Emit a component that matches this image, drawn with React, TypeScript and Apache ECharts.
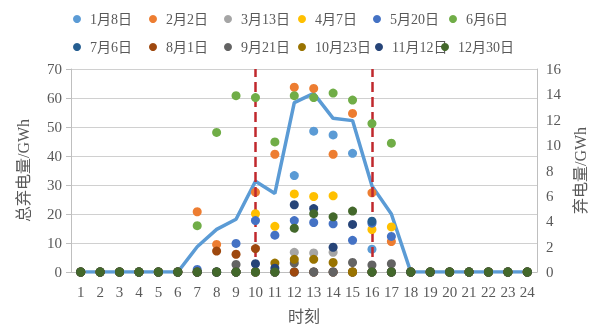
import React, { useEffect, useRef } from "react";
import * as echarts from "echarts";

const hours = ["1","2","3","4","5","6","7","8","9","10","11","12","13","14","15","16","17","18","19","20","21","22","23","24"];

const totalCurtail = [0,0,0,0,0,0,8.7,14.7,18.2,31.3,27.1,58.4,61.6,53,52.2,29.7,20,0,0,0,0,0,0,0];

const d0108 = [0,0,0,0,0,0,0,0,0,0,0,7.6,11.1,10.8,9.35,1.8,0,0,0,0,0,0,0,0];
const d0202 = [0,0,0,0,0,0,4.75,2.17,0,6.29,9.28,14.56,14.47,9.28,12.5,6.24,2.4,0,0,0,0,0,0,0];
const d0313 = [0,0,0,0,0,0,0,0,0,0,0,1.55,1.5,1.55,0,0,0,0,0,0,0,0,0,0];
const d0407 = [0,0,0,0,0,0,0,0,0,4.6,3.6,6.15,5.95,6.0,0,3.35,3.55,0,0,0,0,0,0,0];
const d0520 = [0,0,0,0,0,0,0.2,0,2.25,4.05,2.9,4.05,3.9,3.8,2.5,3.85,2.8,0,0,0,0,0,0,0];
const d0606 = [0,0,0,0,0,0,3.65,11.0,13.9,13.75,10.25,13.9,13.75,14.1,13.55,11.7,10.15,0,0,0,0,0,0,0];
const d0706 = [0,0,0,0,0,0,0,0,0,0,0,0,0,0,0,4.0,0,0,0,0,0,0,0,0];
const d0801 = [0,0,0,0,0,0,0,1.65,1.4,1.85,0,0,0,0,0,0,0,0,0,0,0,0,0,0];
const d0921 = [0,0,0,0,0,0,0,0,0.6,0,0,0.7,0,0,0.75,0.55,0.65,0,0,0,0,0,0,0];
const d1023 = [0,0,0,0,0,0,0,0,0,0,0.7,1.0,1.0,0.75,0,0,0,0,0,0,0,0,0,0];
const d1112 = [0,0,0,0,0,0,0,0,0,0.65,0.3,5.3,5.0,1.95,3.75,0,0,0,0,0,0,0,0,0];
const d1230 = [0,0,0,0,0,0,0,0,0,0,0,3.45,4.6,4.35,4.8,0,0,0,0,0,0,0,0,0];

const dayNames = ["1月8日","2月2日","3月13日","4月7日","5月20日","6月6日","7月6日","8月1日","9月21日","10月23日","11月12日","12月30日"];
const dayData = [d0108,d0202,d0313,d0407,d0520,d0606,d0706,d0801,d0921,d1023,d1112,d1230];
const dayColors = ["#5B9BD5","#ED7D31","#A5A5A5","#FFC000","#4472C4","#70AD47","#255E91","#9E480E","#636363","#997300","#264478","#43682B"];

const leftTicks = { min: 0, max: 70, interval: 10 };
const rightTicks = { min: 0, max: 16, interval: 2 };
const dashedHours = ["10", "16"];

const legendX = [73, 149, 224, 298, 373, 449, 73, 149, 224, 298, 375, 441];
const legendY = [12, 12, 12, 12, 12, 12, 40, 40, 40, 40, 40, 40];

const FONT = "'Liberation Serif', 'Times New Roman', 'Noto Sans CJK SC', serif";
const TXT = "#595959";

export default function App() {
  const ref = useRef<HTMLDivElement>(null);
  useEffect(() => {
    if (!ref.current) return;
    const chart = echarts.init(ref.current, undefined, { renderer: "svg" });
    const legends = dayNames.map((n, i) => ({
      data: [n],
      left: legendX[i],
      top: legendY[i],
      icon: "circle",
      itemWidth: 16,
      itemHeight: 8,
      padding: 0,
      textStyle: { fontFamily: FONT, fontSize: 14, color: TXT },
    }));
    const scatterSeries = dayNames.map((n, i) => ({
      name: n,
      type: "scatter",
      yAxisIndex: 1,
      data: dayData[i],
      symbol: "circle",
      symbolSize: 9,
      itemStyle: { color: dayColors[i], opacity: 1 },
      z: 3 + i,
    }));
    chart.setOption({
      animation: false,
      textStyle: { fontFamily: FONT },
      legend: legends,
      grid: { left: 71, right: 57, top: 69, bottom: 52, containLabel: false, outerBoundsMode: "none" },
      xAxis: {
        type: "category",
        data: hours,
        boundaryGap: true,
        name: "时刻",
        nameLocation: "middle",
        nameGap: 36,
        nameTextStyle: { fontFamily: FONT, fontSize: 16, color: TXT },
        axisLine: { lineStyle: { color: "#BFBFBF" } },
        axisTick: { show: false },
        axisLabel: { fontFamily: FONT, fontSize: 15, color: TXT, margin: 12, interval: 0 },
      },
      yAxis: [
        {
          type: "value",
          ...leftTicks,
          name: "总弃电量/GWh",
          nameLocation: "middle",
          nameRotate: 90,
          nameGap: 40,
          nameTextStyle: { fontFamily: FONT, fontSize: 16, color: TXT },
          axisLine: { show: true, lineStyle: { color: "#BFBFBF" } },
          axisTick: { show: true, length: 5, lineStyle: { color: "#BFBFBF" } },
          axisLabel: { fontFamily: FONT, fontSize: 15, color: TXT, margin: 9 },
          splitLine: { lineStyle: { color: "#D0D0D0", width: 1 } },
        },
        {
          type: "value",
          position: "right",
          ...rightTicks,
          name: "弃电量/GWh",
          nameLocation: "middle",
          nameRotate: 90,
          nameGap: 35,
          nameTextStyle: { fontFamily: FONT, fontSize: 16, color: TXT },
          axisLine: { show: true, lineStyle: { color: "#BFBFBF" } },
          axisTick: { show: false },
          axisLabel: { fontFamily: FONT, fontSize: 15, color: TXT, margin: 9 },
          splitLine: { show: false },
        },
      ],
      series: [
        {
          name: "总弃电量",
          type: "line",
          yAxisIndex: 0,
          data: totalCurtail,
          showSymbol: false,
          symbol: "none",
          lineStyle: { color: "#5B9BD5", width: 3.5 },
          itemStyle: { color: "#5B9BD5" },
          z: 2,
        },
        ...scatterSeries,
        {
          name: "分界",
          type: "line",
          yAxisIndex: 0,
          data: [],
          z: 30,
          markLine: {
            silent: true,
            symbol: "none",
            label: { show: false },
            lineStyle: { color: "#C0282D", type: [10, 5], width: 2.5 },
            data: dashedHours.map((h) => ({ xAxis: h })),
          },
        },
      ],
    });
    return () => chart.dispose();
  }, []);
  return <div ref={ref} style={{ position: "fixed", left: 0, top: 0, width: 594, height: 324 }} />;
}
